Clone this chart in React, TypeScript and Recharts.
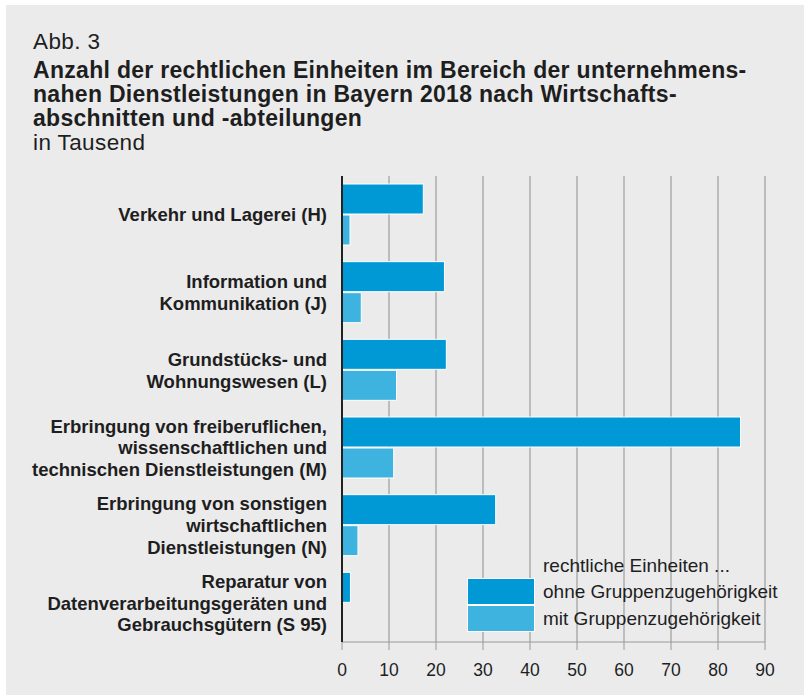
import { BarChart, Bar, XAxis, YAxis, CartesianGrid } from 'recharts'

const categories = [
  'Verkehr und Lagerei (H)',
  'Information und\nKommunikation (J)',
  'Grundstücks- und\nWohnungswesen (L)',
  'Erbringung von freiberuflichen,\nwissenschaftlichen und\ntechnischen Dienstleistungen (M)',
  'Erbringung von sonstigen\nwirtschaftlichen\nDienstleistungen (N)',
  'Reparatur von\nDatenverarbeitungsgeräten und\nGebrauchsgütern (S 95)',
]
const ohneGruppe = [17.3, 21.8, 22.2, 84.8, 32.7, 1.8]
const mitGruppe = [1.7, 4.1, 11.6, 11.0, 3.4, 0]
const xTicks = [0, 10, 20, 30, 40, 50, 60, 70, 80, 90]
const seriesNames = ['ohne Gruppenzugehörigkeit', 'mit Gruppenzugehörigkeit']

const data = categories.map((name, i) => ({ name, ohne: ohneGruppe[i], mit: mitGruppe[i] }))

const DARK = '#0099d6'
const LIGHT = '#3eb3df'
const TEXT = '#1e1e1e'
const FONT = '"Liberation Sans", Arial, Helvetica, sans-serif'

function CategoryTick({ x, y, payload }: any) {
  const lines = String(payload.value).split('\n')
  const lh = 21.7
  return (
    <text x={x} y={y} textAnchor="end" fontSize={18.5} fontWeight="bold" fill={TEXT} fontFamily={FONT}>
      {lines.map((l, i) => (
        <tspan key={i} x={x} dy={i === 0 ? -((lines.length - 1) / 2) * lh + 6.6 : lh}>{l}</tspan>
      ))}
    </text>
  )
}

function LegendBox() {
  const colors = [DARK, LIGHT]
  return (
    <div style={{ position: 'absolute', left: 467, top: 555, width: 330, height: 80, fontFamily: FONT, fontSize: 19, color: TEXT }}>
      <div style={{ position: 'absolute', left: 76, top: 0, lineHeight: '22px', whiteSpace: 'nowrap' }}>rechtliche Einheiten ...</div>
      {seriesNames.map((name, i) => (
        <div key={name}>
          <div style={{ position: 'absolute', left: 0, top: 23 + i * 27, width: 68, height: 27, boxSizing: 'border-box', border: '1px solid #fff', background: colors[i] }} />
          <div style={{ position: 'absolute', left: 76, top: 26 + i * 27, lineHeight: '22px', whiteSpace: 'nowrap' }}>{name}</div>
        </div>
      ))}
    </div>
  )
}

export default function App() {
  return (
    <div style={{ position: 'absolute', left: 0, top: 0, width: 808, height: 697, background: '#fff', fontFamily: FONT }}>
      <div style={{ position: 'absolute', left: 6, top: 5, width: 798, height: 690, background: '#ebebec' }} />
      <div style={{ position: 'absolute', left: 33, top: 29, color: TEXT, whiteSpace: 'nowrap' }}>
        <div style={{ fontSize: 22.5, lineHeight: '25px', letterSpacing: 0.4 }}>Abb. 3</div>
        <div style={{ fontSize: 23, fontWeight: 'bold', lineHeight: '24px', marginTop: 4, letterSpacing: 0.3 }}>
          <div>Anzahl der rechtlichen Einheiten im Bereich der unternehmens-</div>
          <div>nahen Dienstleistungen in Bayern 2018 nach Wirtschafts-</div>
          <div>abschnitten und -abteilungen</div>
        </div>
        <div style={{ fontSize: 22.5, lineHeight: '25px', letterSpacing: 0.4 }}>in Tausend</div>
      </div>
      <div style={{ position: 'absolute', left: 0, top: 0 }}>
        <BarChart
          width={808}
          height={697}
          data={data}
          layout="vertical"
          margin={{ top: 176, right: 43, bottom: 0, left: 0 }}
          barGap={1}
        >
          <CartesianGrid horizontal={false} vertical stroke="#adadad" strokeWidth={1.5} />
          <XAxis
            type="number"
            domain={[0, 90]}
            ticks={xTicks}
            interval={0}
            height={55}
            axisLine={{ stroke: '#9a9a9a', strokeWidth: 1 }}
            tickLine={{ stroke: '#9a9a9a', strokeWidth: 1 }}
            tickSize={8}
            tickMargin={14}
            tick={{ fill: TEXT, fontSize: 17.5, fontFamily: FONT }}
          />
          <YAxis
            type="category"
            dataKey="name"
            width={342}
            interval={0}
            tickLine={false}
            tickSize={6}
            tickMargin={9}
            axisLine={{ stroke: '#222', strokeWidth: 2 }}
            tick={<CategoryTick />}
          />
          <Bar dataKey="ohne" name={seriesNames[0]} fill={DARK} stroke="#fff" strokeWidth={1} barSize={30} isAnimationActive={false} />
          <Bar dataKey="mit" name={seriesNames[1]} fill={LIGHT} stroke="#fff" strokeWidth={1} barSize={30} isAnimationActive={false} />
        </BarChart>
      </div>
      <LegendBox />
    </div>
  )
}
